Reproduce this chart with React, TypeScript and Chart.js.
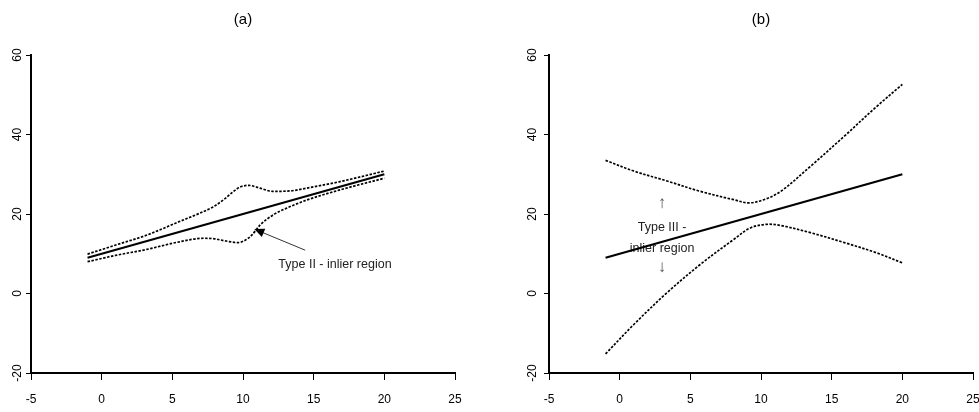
import React, { useEffect, useRef } from "react";
import { Chart, registerables } from "chart.js";

Chart.register(...registerables);

const FONT = '"Liberation Sans", Arial, Helvetica, sans-serif';

// Axis ticks
const xTicks = [-5, 0, 5, 10, 15, 20, 25];
const yTicks = [-20, 0, 20, 40, 60];

// Fitted line (both panels)
const fitX = [-1, 20];
const fitY = [9, 30];

// Panel (a) bands
const aUpperX = [-1, 1, 3.2, 5.5, 7, 7.9, 8.7, 9.3, 9.8, 10.4, 11.2, 12.1, 13.3, 14.5, 16.8, 20];
const aUpperY = [9.9, 12.2, 14.7, 18.1, 20.3, 21.8, 23.8, 25.6, 26.8, 27.2, 26.5, 25.7, 25.8, 26.5, 28.1, 30.8];
const aLowerX = [-1, 1, 3.2, 5.5, 7.2, 7.9, 8.8, 9.65, 10.1, 10.6, 11.2, 12.1, 13.3, 14.5, 16.8, 20];
const aLowerY = [8.0, 9.6, 11.1, 13.0, 13.9, 13.8, 13.2, 12.8, 13.3, 14.6, 17.2, 19.7, 21.8, 23.5, 26.0, 29.0];

// Panel (b) bands
const bUpperX = [-1, 1, 3.35, 5.7, 8.07, 9.13, 10.2, 11.4, 13.5, 15.9, 18.2, 20];
const bUpperY = [33.5, 30.8, 28.3, 25.7, 23.6, 22.8, 23.6, 25.7, 32.0, 39.6, 47.1, 52.6];
const bLowerX = [-1, 1, 3.35, 5.7, 8.07, 9.25, 10.4, 11.4, 13.5, 15.9, 18.2, 20];
const bLowerY = [-15.2, -7.8, 0.2, 7.3, 13.6, 16.5, 17.4, 17.1, 15.3, 12.8, 10.2, 7.7];

// Annotations (data coordinates)
const aArrowFrom = [14.4, 10.9];
const aArrowTo = [10.8, 16.2];
const aNoteText = "Type II - inlier region";
const aNotePos = [12.5, 7.2];

const bNoteLines = ["↑", "Type III -", "inlier region", "↓"];
const bNoteX = 3;
const bNoteY = [22.8, 16.5, 11.2, 6.5];

const titleA = "(a)";
const titleB = "(b)";

function pts(xs: number[], ys: number[]) {
  return xs.map((x, i) => ({ x, y: ys[i] }));
}

function solid(xs: number[], ys: number[]) {
  return {
    data: pts(xs, ys),
    showLine: true,
    borderColor: "#000",
    borderWidth: 2.2,
    pointRadius: 0,
    fill: false,
  };
}

function dotted(xs: number[], ys: number[], mono: boolean) {
  return {
    data: pts(xs, ys),
    showLine: true,
    borderColor: "#000",
    borderWidth: 1.7,
    borderDash: [2.5, 1.5],
    pointRadius: 0,
    cubicInterpolationMode: mono ? "monotone" : "default",
    tension: mono ? 0 : 0.35,
    fill: false,
  };
}

const notesA = {
  id: "notesA",
  afterDatasetsDraw(chart: any) {
    const xs = chart.scales.x;
    const ys = chart.scales.y;
    const ctx = chart.ctx;
    const x1 = xs.getPixelForValue(aArrowFrom[0]);
    const y1 = ys.getPixelForValue(aArrowFrom[1]);
    const x2 = xs.getPixelForValue(aArrowTo[0]);
    const y2 = ys.getPixelForValue(aArrowTo[1]);
    const ang = Math.atan2(y2 - y1, x2 - x1);
    const hl = 10;
    const hw = 4.5;
    ctx.save();
    ctx.strokeStyle = "#333";
    ctx.lineWidth = 1;
    ctx.beginPath();
    ctx.moveTo(x1, y1);
    ctx.lineTo(x2 - Math.cos(ang) * hl * 0.8, y2 - Math.sin(ang) * hl * 0.8);
    ctx.stroke();
    ctx.fillStyle = "#000";
    ctx.beginPath();
    ctx.moveTo(x2, y2);
    ctx.lineTo(x2 - Math.cos(ang) * hl - Math.sin(ang) * hw, y2 - Math.sin(ang) * hl + Math.cos(ang) * hw);
    ctx.lineTo(x2 - Math.cos(ang) * hl + Math.sin(ang) * hw, y2 - Math.sin(ang) * hl - Math.cos(ang) * hw);
    ctx.closePath();
    ctx.fill();
    ctx.fillStyle = "#222";
    ctx.font = `12.5px ${FONT}`;
    ctx.textAlign = "left";
    ctx.textBaseline = "middle";
    ctx.fillText(aNoteText, xs.getPixelForValue(aNotePos[0]), ys.getPixelForValue(aNotePos[1]));
    ctx.restore();
  },
};

const notesB = {
  id: "notesB",
  beforeDatasetsDraw(chart: any) {
    const xs = chart.scales.x;
    const ys = chart.scales.y;
    const ctx = chart.ctx;
    ctx.save();
    ctx.textAlign = "center";
    ctx.textBaseline = "middle";
    bNoteLines.forEach((t, i) => {
      const isArrow = t === "↑" || t === "↓";
      ctx.fillStyle = isArrow ? "#555" : "#222";
      ctx.font = isArrow ? `17px ${FONT}` : `12.5px ${FONT}`;
      ctx.fillText(t, xs.getPixelForValue(bNoteX), ys.getPixelForValue(bNoteY[i]));
    });
    ctx.restore();
  },
};

type PanelProps = {
  width: number;
  title: string;
  datasets: any[];
  leftWidth: number;
  rightPad: number;
  yPad: number;
  plugin: any;
};

function Panel({ width, title, datasets, leftWidth, rightPad, yPad, plugin }: PanelProps) {
  const ref = useRef<HTMLCanvasElement | null>(null);
  useEffect(() => {
    if (!ref.current) return;
    const chart = new Chart(ref.current, {
      type: "scatter",
      data: { datasets },
      options: {
        responsive: false,
        animation: false,
        events: [],
        layout: { padding: { left: 0, right: rightPad, top: 0, bottom: 0 } },
        plugins: {
          legend: { display: false },
          tooltip: { enabled: false },
          title: {
            display: true,
            text: title,
            fullSize: false,
            color: "#000",
            font: { family: FONT, size: 15, weight: "normal" },
            padding: { top: 11, bottom: 26 },
          },
        },
        scales: {
          x: {
            type: "linear",
            min: -5,
            max: 25,
            afterBuildTicks: (s: any) => {
              s.ticks = xTicks.map((v) => ({ value: v }));
            },
            afterFit: (s: any) => {
              s.height = 39;
              s.paddingLeft = 0;
              s.paddingRight = 0;
            },
            grid: { drawOnChartArea: false, drawTicks: true, tickLength: 7, color: "#000", lineWidth: 1 },
            border: { display: true, color: "#000", width: 2 },
            ticks: {
              color: "#000",
              font: { family: FONT, size: 12 },
              padding: 12,
              minRotation: 0,
              maxRotation: 0,
              autoSkip: false,
            },
          },
          y: {
            type: "linear",
            min: -20,
            max: 60,
            afterBuildTicks: (s: any) => {
              s.ticks = yTicks.map((v) => ({ value: v }));
            },
            afterFit: (s: any) => {
              s.width = leftWidth;
              s.paddingTop = 0;
              s.paddingBottom = 0;
            },
            grid: { drawOnChartArea: false, drawTicks: true, tickLength: 5, color: "#000", lineWidth: 1 },
            border: { display: true, color: "#000", width: 2 },
            ticks: {
              color: "#000",
              font: { family: FONT, size: 12 },
              padding: yPad,
              minRotation: 90,
              maxRotation: 90,
              crossAlign: "center",
              autoSkip: false,
            },
          },
        },
      } as any,
      plugins: [plugin],
    });
    return () => chart.destroy();
  }, []);
  return <canvas ref={ref} width={width} height={412} style={{ display: "block", width, height: 412 }} />;
}

export default function App() {
  const dsA = [solid(fitX, fitY), dotted(aUpperX, aUpperY, true), dotted(aLowerX, aLowerY, true)];
  const dsB = [solid(fitX, fitY), dotted(bUpperX, bUpperY, false), dotted(bLowerX, bLowerY, false)];
  return (
    <div style={{ position: "absolute", left: 0, top: 0, width: 979, height: 412, display: "flex", background: "#fff" }}>
      <Panel width={490} title={titleA} datasets={dsA} leftWidth={31} rightPad={35} yPad={0} plugin={notesA} />
      <Panel width={489} title={titleB} datasets={dsB} leftWidth={59} rightPad={6} yPad={3} plugin={notesB} />
    </div>
  );
}
